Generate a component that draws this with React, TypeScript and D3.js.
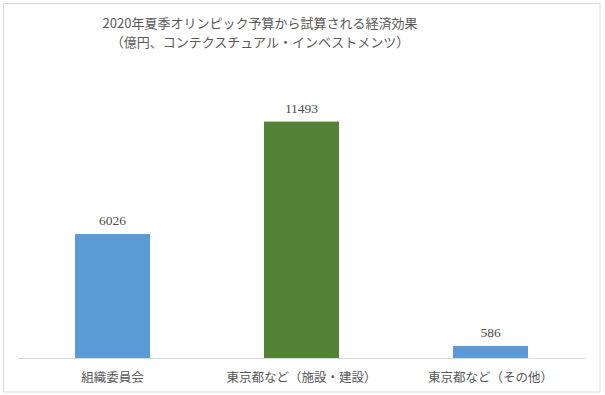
import React, { useEffect, useRef } from 'react';
import * as d3 from 'd3';

// データ
const categories = ['組織委員会', '東京都など（施設・建設）', '東京都など（その他）'];
const values = [6026, 11493, 586];
const barColors = ['#5B9BD5', '#538135', '#5B9BD5'];
const titleLines = ['2020年夏季オリンピック予算から試算される経済効果', '（億円、コンテクスチュアル・インベストメンツ）'];
const yMax = 14000;

const App = () => {
  const ref = useRef<SVGSVGElement | null>(null);

  useEffect(() => {
    const svg = d3.select(ref.current);
    svg.selectAll('*').remove();

    const width = 605;
    const height = 395;
    const plot = { left: 18, right: 585, top: 70, bottom: 358 };

    // 外枠
    svg
      .append('rect')
      .attr('x', 3.5)
      .attr('y', 3.5)
      .attr('width', 596.5)
      .attr('height', 388.5)
      .attr('fill', '#fff')
      .attr('stroke', '#d9d9d9')
      .attr('stroke-width', 1);

    const x = d3
      .scaleBand<string>()
      .domain(categories)
      .range([plot.left, plot.right])
      .paddingInner(0.603)
      .paddingOuter(0.3015);

    const y = d3.scaleLinear().domain([0, yMax]).range([plot.bottom, plot.top]);

    const data = categories.map((c, i) => ({ c, v: values[i], color: barColors[i] }));

    // 棒
    svg
      .selectAll('.bar')
      .data(data)
      .enter()
      .append('rect')
      .attr('class', 'bar')
      .attr('x', d => x(d.c)!)
      .attr('y', d => y(d.v))
      .attr('width', x.bandwidth())
      .attr('height', d => plot.bottom - y(d.v))
      .attr('fill', d => d.color);

    // 横軸
    svg
      .append('line')
      .attr('x1', plot.left)
      .attr('x2', plot.right)
      .attr('y1', plot.bottom + 0.5)
      .attr('y2', plot.bottom + 0.5)
      .attr('stroke', '#d9d9d9')
      .attr('stroke-width', 1);

    // 値ラベル
    svg
      .selectAll('.label')
      .data(data)
      .enter()
      .append('text')
      .attr('class', 'label')
      .attr('x', d => x(d.c)! + x.bandwidth() / 2)
      .attr('y', d => y(d.v) - 9)
      .attr('text-anchor', 'middle')
      .style('font-family', '"Liberation Serif", serif')
      .style('font-size', '13.5px')
      .attr('fill', '#4d4d4d')
      .text(d => d.v);

    // カテゴリラベル
    svg
      .selectAll('.cat')
      .data(categories)
      .enter()
      .append('text')
      .attr('class', 'cat')
      .attr('x', d => x(d)! + x.bandwidth() / 2)
      .attr('y', 382)
      .attr('text-anchor', 'middle')
      .style('font-family', '"Noto Sans CJK JP", sans-serif')
      .style('font-size', '12.5px')
      .attr('fill', '#595959')
      .text(d => d);

    // タイトル
    svg
      .selectAll('.title')
      .data(titleLines)
      .enter()
      .append('text')
      .attr('class', 'title')
      .attr('x', 260)
      .attr('y', (d, i) => 28 + i * 19)
      .attr('text-anchor', 'middle')
      .style('font-family', '"Noto Sans CJK JP", sans-serif')
      .style('font-size', '13px')
      .attr('fill', '#595959')
      .text(d => d);

    svg.attr('width', width).attr('height', height);
  }, []);

  return <svg ref={ref} width={605} height={395} style={{ position: 'absolute', left: 0, top: 0 }} />;
};

export default App;
